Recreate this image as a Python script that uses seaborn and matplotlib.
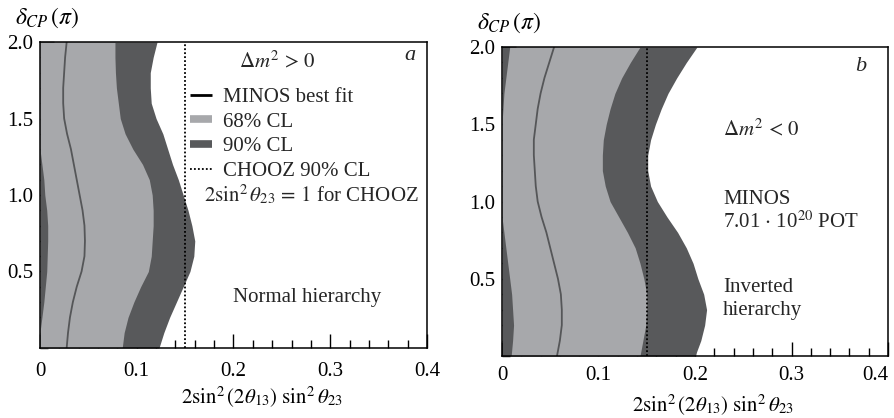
import numpy as np
import matplotlib
matplotlib.use("Agg")
import matplotlib.pyplot as plt
from matplotlib.lines import Line2D
import seaborn as sns

# delta_CP grid (units of pi)
delta = [0.0, 0.1, 0.2, 0.3, 0.4, 0.5, 0.6, 0.7, 0.8, 0.9, 1.0,
         1.1, 1.2, 1.3, 1.4, 1.5, 1.6, 1.7, 1.8, 1.9, 2.0]

# Panel a: normal hierarchy
a_best = [0.0276, 0.029, 0.031, 0.034, 0.038, 0.043, 0.046, 0.0465, 0.046, 0.044, 0.041,
          0.038, 0.035, 0.032, 0.028, 0.025, 0.024, 0.024, 0.025, 0.026, 0.0276]
a_lo68 = [0.0, 0.0, 0.002, 0.004, 0.0055, 0.007, 0.0075, 0.008, 0.008, 0.007, 0.005,
          0.004, 0.002, 0.0, 0.0, 0.0, 0.0, 0.0, 0.0, 0.0, 0.0]
a_hi68 = [0.085, 0.087, 0.091, 0.097, 0.104, 0.112, 0.115, 0.116, 0.117, 0.117, 0.116,
          0.113, 0.106, 0.096, 0.088, 0.083, 0.081, 0.079, 0.078, 0.0775, 0.0775]
a_hi90 = [0.123, 0.128, 0.134, 0.141, 0.148, 0.155, 0.159, 0.160, 0.157, 0.153, 0.148,
          0.143, 0.137, 0.132, 0.127, 0.120, 0.115, 0.114, 0.114, 0.117, 0.121]

# Panel b: inverted hierarchy
b_best = [0.057, 0.060, 0.062, 0.062, 0.061, 0.058, 0.054, 0.050, 0.046, 0.041, 0.037,
          0.035, 0.034, 0.033, 0.033, 0.035, 0.037, 0.040, 0.044, 0.049, 0.054]
b_lo68 = [0.0095, 0.011, 0.012, 0.011, 0.010, 0.008, 0.006, 0.004, 0.002, 0.0, 0.0,
          0.0, 0.0, 0.0, 0.0, 0.0, 0.001, 0.002, 0.004, 0.006, 0.008]
b_hi68 = [0.143, 0.146, 0.149, 0.150, 0.150, 0.147, 0.143, 0.138, 0.130, 0.121, 0.112,
          0.107, 0.104, 0.104, 0.105, 0.108, 0.112, 0.117, 0.124, 0.133, 0.143]
b_hi90 = [0.200, 0.206, 0.210, 0.212, 0.209, 0.203, 0.198, 0.191, 0.182, 0.171, 0.161,
          0.154, 0.151, 0.151, 0.154, 0.159, 0.165, 0.172, 0.181, 0.191, 0.202]

chooz_limit = 0.15

legend_labels = ["MINOS best fit", "68% CL", "90% CL", "CHOOZ 90% CL"]

LIGHT = "#a7a8ab"
DARK = "#58595b"
LINE = "#555658"

sns.set_theme(style="ticks")
plt.rcParams["font.family"] = ["Liberation Serif", "DejaVu Serif"]
plt.rcParams["mathtext.fontset"] = "stix"
plt.rcParams["axes.linewidth"] = 1.1
plt.rcParams["axes.edgecolor"] = "black"

fig = plt.figure(figsize=(8.94, 4.18), dpi=100)
ax_a = fig.add_axes([0.0447, 0.1675, 0.4329, 0.732])
ax_b = fig.add_axes([0.5615, 0.1483, 0.4318, 0.7392])

FS = 15


def draw_panel(ax, best, lo68, hi68, hi90, xpad):
    zeros = np.zeros(len(delta))
    ax.fill_betweenx(delta, zeros, hi90, color=DARK, lw=0, zorder=1)
    ax.fill_betweenx(delta, lo68, hi68, color=LIGHT, lw=0, zorder=2)
    ax.axvline(chooz_limit, color="black", ls=(0, (1, 1.2)), lw=1.3, zorder=3)
    sns.lineplot(x=best, y=delta, sort=False, estimator=None, color=LINE,
                 lw=1.3, ax=ax, zorder=4)
    ax.set_xlim(0, 0.4)
    ax.set_ylim(0, 2.0)
    ax.set_xticks([0, 0.1, 0.2, 0.3, 0.4])
    ax.set_xticklabels(["0", "0.1", "0.2", "0.3", "0.4"])
    ax.set_xticks(np.arange(0, 0.4001, 0.02), minor=True)
    ax.set_yticks([0.5, 1.0, 1.5, 2.0])
    ax.set_yticklabels(["0.5", "1.0", "1.5", "2.0"])
    ax.set_yticks(np.arange(0, 2.0001, 0.1), minor=True)
    ax.tick_params(which="both", direction="in", top=False, right=False,
                   color="black", width=1.0, labelsize=FS, labelcolor="black")
    ax.tick_params(which="major", length=10)
    ax.tick_params(axis="x", which="major", pad=xpad)
    ax.tick_params(axis="y", which="major", pad=5)
    ax.tick_params(which="minor", length=6)
    for s in ax.spines.values():
        s.set_visible(True)
        s.set_color("black")
        s.set_zorder(6)
    ax.set_xlabel(r"$2\sin^2(2\theta_{13})\ \sin^2\theta_{23}$", fontsize=FS, color="black")
    ax.set_ylabel("")
    ax.text(0.018, 1.08, r"$\delta_{CP}\,(\pi)$", transform=ax.transAxes,
            fontsize=FS + 2, ha="center", va="center", color="black")


draw_panel(ax_a, a_best, a_lo68, a_hi68, a_hi90, xpad=10)
draw_panel(ax_b, b_best, b_lo68, b_hi68, b_hi90, xpad=7)
ax_a.xaxis.set_label_coords(0.574, -0.122)
ax_b.xaxis.set_label_coords(0.547, -0.118)
# keep the last tick label of the right panel inside the figure
ax_b.get_xticklabels()[-1].set_ha("right")

# Panel a annotations
ax_a.text(0.382, 1.915, "a", style="italic", fontsize=FS + 1, ha="center", va="center")
ax_a.text(0.245, 1.87, r"$\Delta m^2\,>\,0$", fontsize=FS, ha="center", va="center")
handles = [
    Line2D([], [], color="black", lw=2.0, solid_capstyle="butt"),
    Line2D([], [], color=LIGHT, lw=5.5, solid_capstyle="butt"),
    Line2D([], [], color=DARK, lw=5.5, solid_capstyle="butt"),
    Line2D([], [], color="black", lw=1.3, ls=(0, (1, 1.2))),
]
ax_a.legend(handles, legend_labels, loc="upper left", bbox_to_anchor=(0.387, 0.852),
            frameon=False, fontsize=FS, handlelength=1.05, handletextpad=0.55,
            labelspacing=0.25, borderpad=0, borderaxespad=0)
ax_a.text(0.17, 1.0, r"$2\sin^2\theta_{23}\,=\,1$ for CHOOZ", fontsize=FS,
          ha="left", va="center")
ax_a.text(0.2, 0.33, "Normal hierarchy", fontsize=FS, ha="left", va="center")

# Panel b annotations
ax_b.text(0.372, 1.877, "b", style="italic", fontsize=FS + 1, ha="center", va="center")
ax_b.text(0.229, 1.465, r"$\Delta m^2\,<\,0$", fontsize=FS, ha="left", va="center")
ax_b.text(0.229, 1.015, "MINOS", fontsize=FS, ha="left", va="center")
ax_b.text(0.229, 0.865, r"7.01 $\cdot$ 10$^{20}$ POT", fontsize=FS, ha="left", va="center")
ax_b.text(0.229, 0.445, "Inverted", fontsize=FS, ha="left", va="center")
ax_b.text(0.229, 0.295, "hierarchy", fontsize=FS, ha="left", va="center")

fig.savefig("out.png", dpi=100, facecolor="white")
